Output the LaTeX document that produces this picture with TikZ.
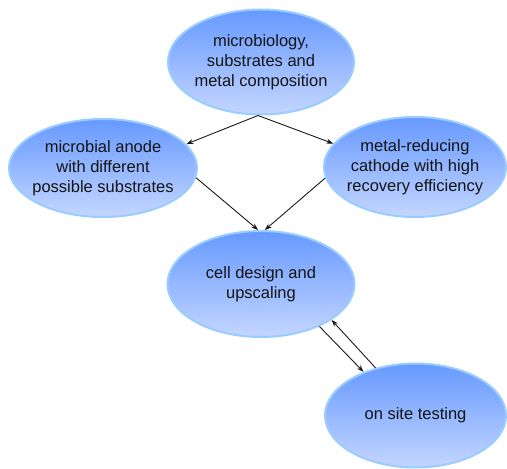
\documentclass[tikz,border=0pt]{standalone}
\usepackage{fontspec}
\setmainfont{Liberation Sans}
\usetikzlibrary{shapes.geometric,arrows.meta}
\definecolor{topblue}{HTML}{6699FF}
\definecolor{botblue}{HTML}{C4D6FF}
\definecolor{rimblue}{HTML}{99CCFF}
\tikzset{
  bubble/.style={ellipse, draw=rimblue, line width=2pt, top color=topblue, bottom color=botblue,
    inner xsep=-30pt, inner ysep=0pt, align=center, text=black!92, font=\fontsize{16.5}{20}\selectfont},
  link/.style={black!90, line width=0.9pt, -{Stealth[length=7pt,width=5pt]}}
}
\begin{document}
\begin{tikzpicture}[x=1pt,y=1pt]
\useasboundingbox (0,0) rectangle (507,469);
\node[bubble, minimum width=186pt, minimum height=105pt] (top) at (261,407) {microbiology,\\substrates and\\metal composition};
\node[bubble, minimum width=188pt, minimum height=98pt] (left) at (103,301) {microbial anode\\with different\\possible substrates};
\node[bubble, minimum width=182pt, minimum height=100pt] (right) at (415,302) {metal-reducing\\cathode with high\\recovery efficiency};
\node[bubble, minimum width=187pt, minimum height=106pt] (cell) at (261,185) {cell design and\\upscaling};
\node[bubble, minimum width=181pt, minimum height=104pt] (site) at (415.5,53.5) {on site testing};
\draw[link] ([xshift=-3pt]top.south) -- (left.16);
\draw[link] ([xshift=-3pt]top.south) -- (right.164);
\draw[link] (left.-6) -- (cell.93);
\draw[link] (right.187) -- (cell.86);
\draw[link] (cell.-36) -- (site.140);
\draw[link] (site.130) -- (cell.-27);
\end{tikzpicture}
\end{document}
